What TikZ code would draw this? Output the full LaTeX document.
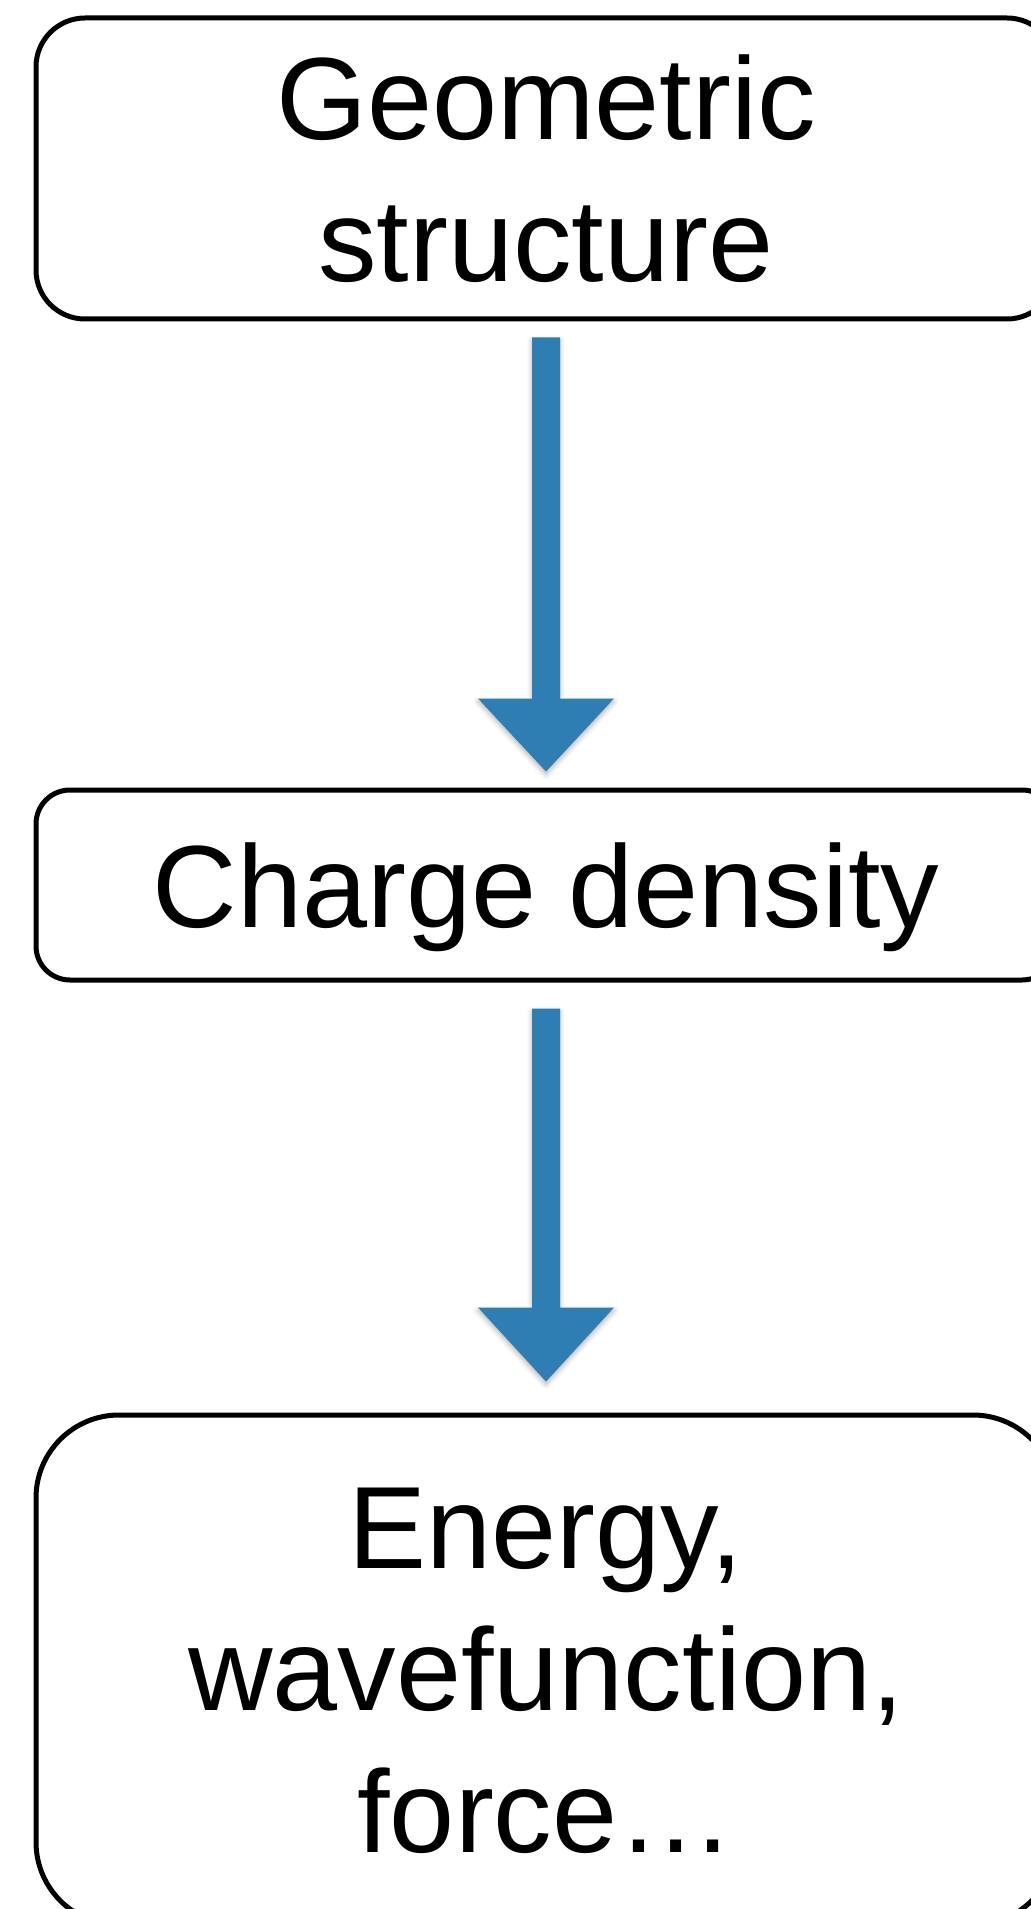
\documentclass[tikz,border=0pt]{standalone}
\usepackage{fontspec}
\setmainfont{Liberation Sans}
\usetikzlibrary{calc,shadows.blur}
\definecolor{flowblue}{RGB}{47,126,179}
\tikzset{
  stage/.style={draw=black, line width=2.5pt, fill=white, minimum width=510pt,
    inner sep=0pt, align=center, text depth=0pt,
    font=\fontsize{58.5}{71}\selectfont},
  flowarrow/.style={fill=flowblue, draw=none,
    blur shadow={shadow xshift=0pt, shadow yshift=-1.5pt,
      shadow blur radius=2.5pt, shadow opacity=30}}
}
\begin{document}
\begin{tikzpicture}[x=0.5pt, y=-0.5pt]
  \useasboundingbox (0,0) rectangle (1030,1909);

  % the three stages of the calculation
  \node[stage, rounded corners=24.5pt, minimum height=150.5pt] (geo) at (546,168.5) {Geometric\\structure};
  \node[stage, rounded corners=17pt, minimum height=95pt] (rho) at (546,885) {Charge density};
  \node[stage, rounded corners=41.5pt, minimum height=255pt] (out) at (546,1670) {Energy,\\wavefunction,\\force…};

  % block arrow: geometry -> density
  \coordinate (a1s) at ($(geo.south)+(0,16)$);
  \coordinate (a1t) at ($(rho.north)+(0,-16)$);
  \coordinate (a1h) at ($(a1t)+(0,-73)$);
  \fill[flowarrow] ($(a1s)+(-14,0)$) -- ($(a1s)+(14,0)$) -- ($(a1h)+(14,0)$)
    -- ($(a1h)+(68,0)$) -- (a1t) -- ($(a1h)+(-68,0)$) -- ($(a1h)+(-14,0)$) -- cycle;

  % block arrow: density -> observables
  \coordinate (a2s) at ($(rho.south)+(0,26)$);
  \coordinate (a2t) at ($(out.north)+(0,-31)$);
  \coordinate (a2h) at ($(a2t)+(0,-74)$);
  \fill[flowarrow] ($(a2s)+(-14,0)$) -- ($(a2s)+(14,0)$) -- ($(a2h)+(14,0)$)
    -- ($(a2h)+(68,0)$) -- (a2t) -- ($(a2h)+(-68,0)$) -- ($(a2h)+(-14,0)$) -- cycle;
\end{tikzpicture}
\end{document}
